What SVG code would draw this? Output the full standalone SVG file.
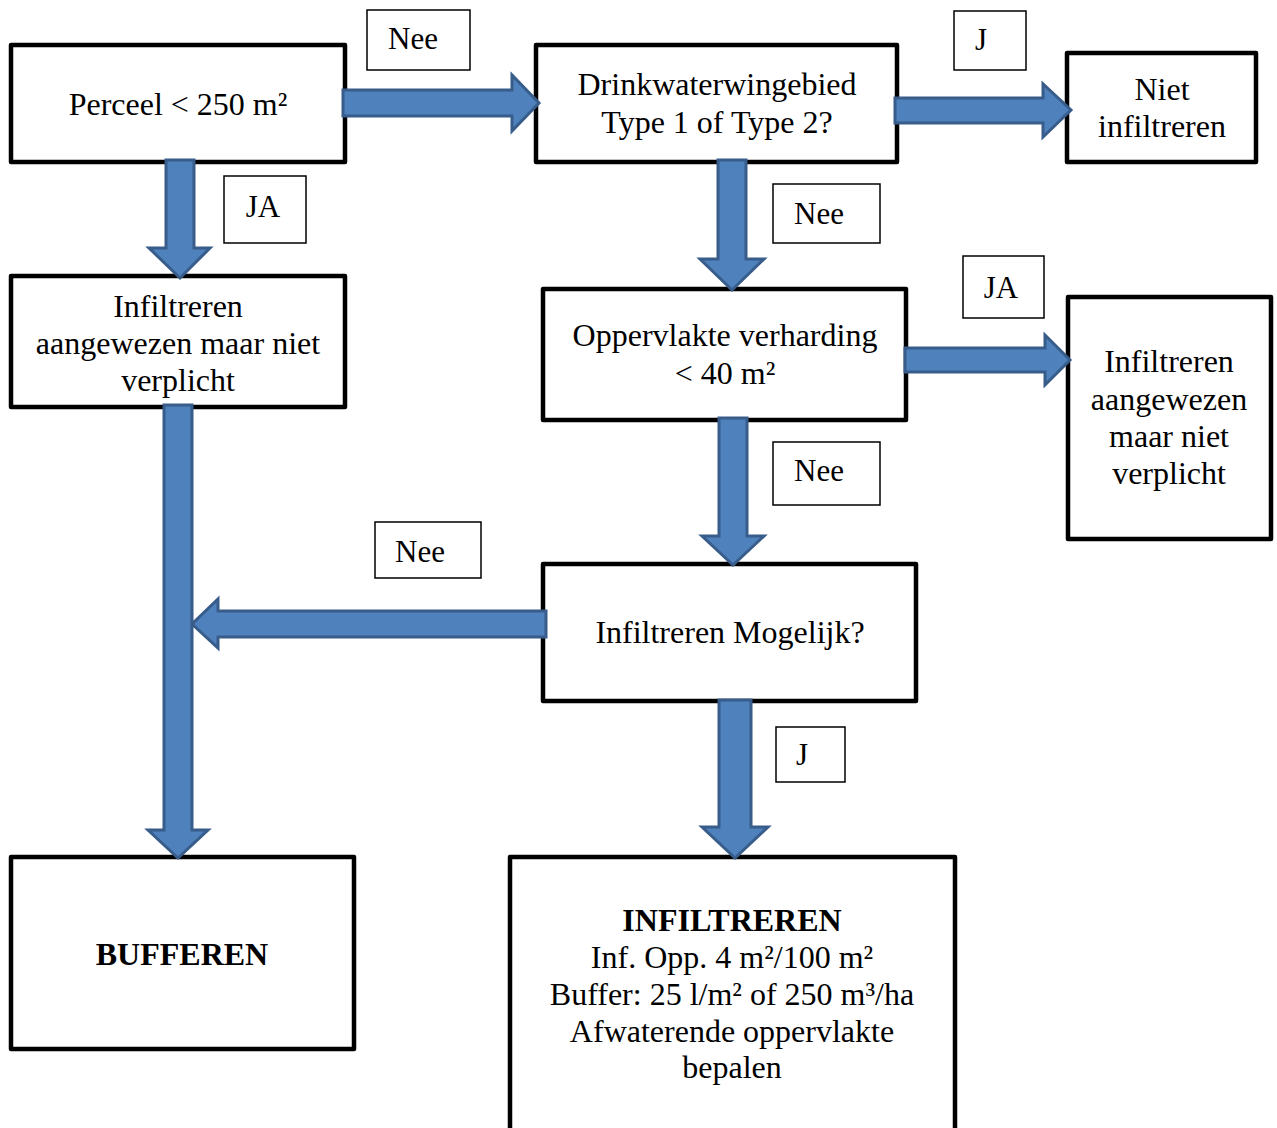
<svg xmlns="http://www.w3.org/2000/svg" width="1277" height="1128" viewBox="0 0 1277 1128">
<style>
.node{fill:#fff;stroke:#000;stroke-width:4.5;stroke-linejoin:round}
.lbl{fill:#fff;stroke:#000;stroke-width:1.5}
text{font-family:"Liberation Serif","Times New Roman",serif;font-size:32px;fill:#000;text-anchor:middle}
.lt{font-size:31px}
.b{font-weight:bold}
.arr{fill:#4F81BD;stroke:#385D8A;stroke-width:3;stroke-linejoin:miter}
</style>
<rect width="1277" height="1128" fill="#fff"/>
<g id="n-perceel"><rect class="node" x="11" y="45" width="334" height="117"/><text x="178" y="115">Perceel &lt; 250 m²</text></g>
<g id="n-drinkwater"><rect class="node" x="536" y="45" width="361" height="117"/><text x="717" y="95">Drinkwaterwingebied</text><text x="717" y="133">Type 1 of Type 2?</text></g>
<g id="n-niet"><rect class="node" x="1067" y="53" width="189" height="109"/><text x="1162" y="100">Niet</text><text x="1162" y="137">infiltreren</text></g>
<g id="n-infil-left"><rect class="node" x="11" y="276" width="334" height="131"/><text x="178" y="317">Infiltreren</text><text x="178" y="354">aangewezen maar niet</text><text x="178" y="391">verplicht</text></g>
<g id="n-opp"><rect class="node" x="543" y="289" width="363" height="131"/><text x="725" y="346">Oppervlakte verharding</text><text x="725" y="384">&lt; 40 m²</text></g>
<g id="n-infil-right"><rect class="node" x="1068" y="297" width="203" height="242"/><text x="1169" y="372">Infiltreren</text><text x="1169" y="410">aangewezen</text><text x="1169" y="447">maar niet</text><text x="1169" y="484">verplicht</text></g>
<g id="n-mogelijk"><rect class="node" x="543" y="564" width="373" height="137"/><text x="730" y="643">Infiltreren Mogelijk?</text></g>
<g id="n-bufferen"><rect class="node" x="11" y="857" width="343" height="192"/><text class="b" x="182" y="965">BUFFEREN</text></g>
<g id="n-infiltreren"><rect class="node" x="510" y="857" width="445" height="290"/><text class="b" x="732" y="931">INFILTREREN</text><text x="732" y="968">Inf. Opp. 4 m²/100 m²</text><text x="732" y="1005">Buffer: 25 l/m² of 250 m³/ha</text><text x="732" y="1042">Afwaterende oppervlakte</text><text x="732" y="1078">bepalen</text></g>
<g id="labels">
<g id="l-nee1"><rect class="lbl" x="367" y="10" width="103" height="60"/><text class="lt" x="413" y="49">Nee</text></g>
<g id="l-j1"><rect class="lbl" x="954" y="11" width="72" height="59"/><text class="lt" x="981" y="50">J</text></g>
<g id="l-ja1"><rect class="lbl" x="224" y="176" width="82" height="67"/><text class="lt" x="263" y="217">JA</text></g>
<g id="l-nee2"><rect class="lbl" x="773" y="184" width="107" height="59"/><text class="lt" x="819" y="224">Nee</text></g>
<g id="l-ja2"><rect class="lbl" x="963" y="256" width="81" height="62"/><text class="lt" x="1001" y="298">JA</text></g>
<g id="l-nee3"><rect class="lbl" x="773" y="442" width="107" height="63"/><text class="lt" x="819" y="481">Nee</text></g>
<g id="l-nee4"><rect class="lbl" x="375" y="522" width="106" height="56"/><text class="lt" x="420" y="562">Nee</text></g>
<g id="l-j2"><rect class="lbl" x="776" y="727" width="69" height="55"/><text class="lt" x="802" y="765">J</text></g>
</g>
<g id="connectors">
<polygon class="arr" points="343,90 512,90 512,75 539,103 512,131 512,116 343,116"/>
<polygon class="arr" points="166,160 194,160 194,248 210,248 180,278 149,248 166,248"/>
<polygon class="arr" points="895,98 1043,98 1043,84 1071,110 1043,137 1043,123 895,123"/>
<polygon class="arr" points="718,160 746,160 746,259 764,259 732,290 700,259 718,259"/>
<polygon class="arr" points="905,348 1045,348 1045,335 1070,360 1045,385 1045,372 905,372"/>
<polygon class="arr" points="719,418 747,418 747,536 764,536 733,565 702,536 719,536"/>
<polygon class="arr" points="164,405 192,405 192,830 208,830 178,858 148,830 164,830"/>
<polygon class="arr" points="546,611 546,637 218,637 218,648 192,624 218,599 218,611"/>
<polygon class="arr" points="719,700 751,700 751,827 768,827 735,858 702,827 719,827"/>
</g>
</svg>
